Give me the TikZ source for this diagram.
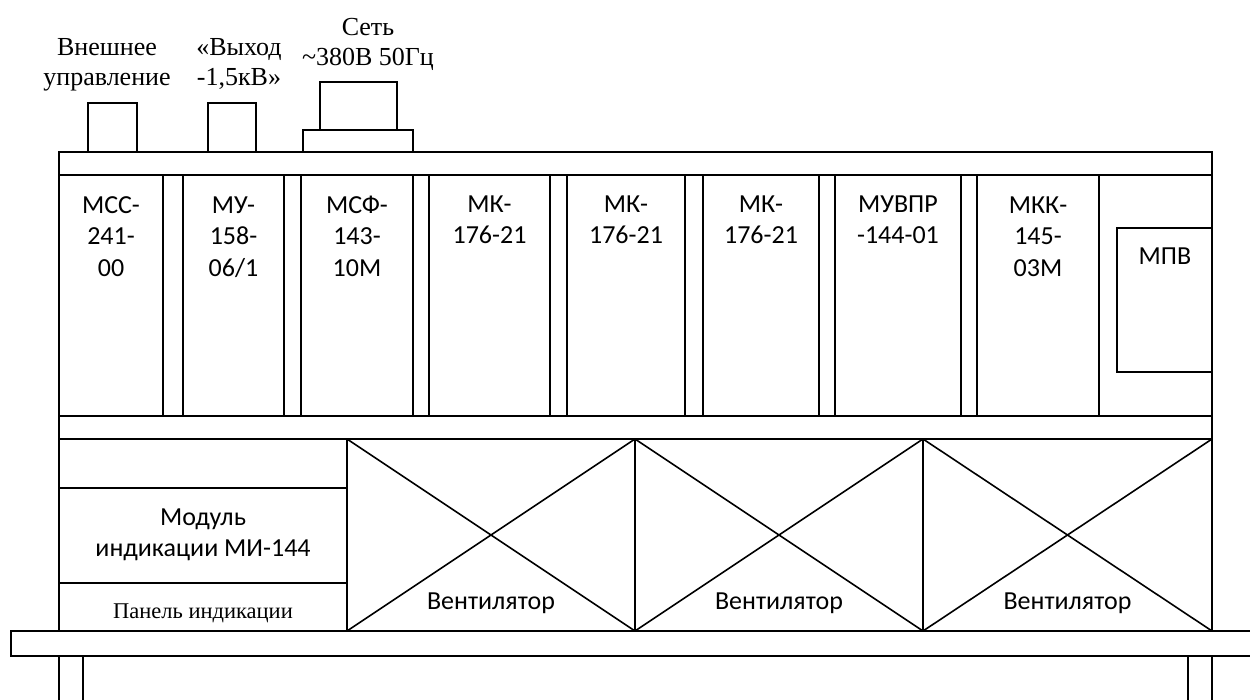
\documentclass[tikz,border=0pt]{standalone}
\usepackage{fontspec}
\setmainfont{Liberation Serif}
\newfontfamily\calibri{Carlito}
\newcommand{\mtxt}[1]{\parbox[t]{300pt}{\centering\calibri\fontsize{26}{31.5}\selectfont #1}}
\newcommand{\ttxt}[1]{\parbox[t]{260pt}{\centering\fontsize{26}{30.5}\selectfont #1}}
\newcommand{\ptxt}[1]{\parbox[t]{260pt}{\centering\fontsize{22.5}{30.5}\selectfont #1}}
\begin{document}
\begin{tikzpicture}[x=1pt,y=-1pt]
\tikzset{
  frame/.style={draw=black, line width=1.6pt},
  lbl/.style={anchor=base, inner sep=0pt, outer sep=0pt}
}
\fill[white] (0,0) rectangle (1250,699);
\useasboundingbox (0,0) rectangle (1250,699);

% top connectors
\draw[frame] (88,103) rectangle (137,152);
\draw[frame] (208,103) rectangle (256,152);
\draw[frame] (303,130) rectangle (413,152);
\draw[frame] (320,82) rectangle (397,130);

% chassis bars
\draw[frame] (59,152) rectangle (1212,175);
\draw[frame] (59,175) rectangle (1212,416);
\draw[frame] (59,416) rectangle (1212,439);

% modules
\draw[frame] (59,175) rectangle (163,416);
\draw[frame] (183,175) rectangle (284,416);
\draw[frame] (301,175) rectangle (413,416);
\draw[frame] (429,175) rectangle (550,416);
\draw[frame] (567,175) rectangle (685,416);
\draw[frame] (703,175) rectangle (819,416);
\draw[frame] (835,175) rectangle (961,416);
\draw[frame] (977,175) rectangle (1099,416);
\draw[frame] (1117,228) rectangle (1212,372);

% lower section
\draw[frame] (59,439) rectangle (347,631);
\draw[frame] (59,488) -- (347,488);
\draw[frame] (59,583) -- (347,583);
\foreach \a/\b in {347/635,635/923,923/1212}{
  \draw[frame] (\a,439) rectangle (\b,631);
  \draw[frame] (\a,439) -- (\b,631);
  \draw[frame] (\a,631) -- (\b,439);
}

% base plate and legs
\draw[frame] (1256,631) -- (11,631) -- (11,656) -- (1256,656);
\draw[frame] (59,656) -- (59,702);
\draw[frame] (83,656) -- (83,702);
\draw[frame] (1188,656) -- (1188,702);
\draw[frame] (1212,656) -- (1212,702);

% top labels
\node[lbl] (ext) at (107,55) {\ttxt{Внешнее\\управление}};
\node[lbl] (out) at (239,55) {\ttxt{«Выход\\-1,5кВ»}};
\node[lbl] (net) at (368,35) {\ttxt{Сеть\\\textasciitilde380В 50Гц}};

% module labels
\node[lbl] (mcc) at (111,213) {\mtxt{МСС-\\241-\\00}};
\node[lbl] (mu) at (233.5,213) {\mtxt{МУ-\\158-\\06/1}};
\node[lbl] (mcf) at (357,213) {\mtxt{МСФ-\\143-\\10М}};
\node[lbl] (mk1) at (489.5,212) {\mtxt{МК-\\176-21}};
\node[lbl] (mk2) at (626,212) {\mtxt{МК-\\176-21}};
\node[lbl] (mk3) at (761,212) {\mtxt{МК-\\176-21}};
\node[lbl] (muvpr) at (898,212) {\mtxt{МУВПР\\-144-01}};
\node[lbl] (mkk) at (1038,213) {\mtxt{МКК-\\145-\\03М}};
\node[lbl] (mpv) at (1165,264) {\mtxt{МПВ}};

% lower labels
\node[lbl] (mi) at (203,525) {\mtxt{Модуль\\индикации МИ-144}};
\node[lbl] (panel) at (203,618) {\ptxt{Панель индикации}};
\node[lbl] (fan1) at (491,609) {\mtxt{Вентилятор}};
\node[lbl] (fan2) at (779,609) {\mtxt{Вентилятор}};
\node[lbl] (fan3) at (1067.5,609) {\mtxt{Вентилятор}};
\end{tikzpicture}
\end{document}
